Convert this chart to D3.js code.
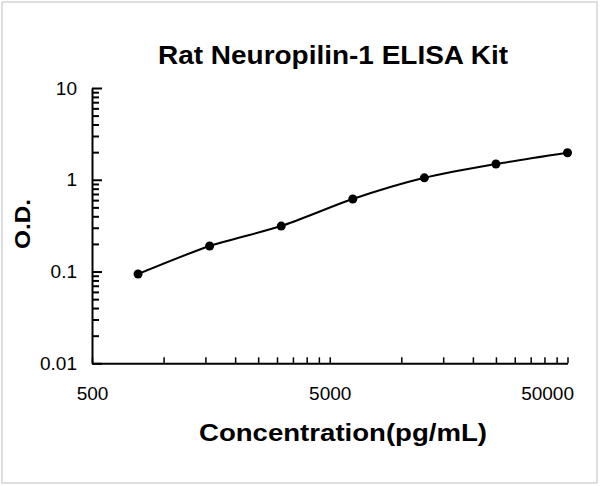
<!DOCTYPE html>
<html>
<head>
<meta charset="utf-8">
<script src="https://cdn.jsdelivr.net/npm/d3@7"></script>
<style>
  body { margin: 0; background: #fff; }
  svg { display: block; }
  text { font-family: "Liberation Sans", Arial, sans-serif; fill: #000; }
</style>
</head>
<body>
<svg id="chart"></svg>
<script>
// standard curve values
const concentrations = [781.25, 1562.5, 3125, 6250, 12500, 25000, 50000];
const odValues = [0.094, 0.19, 0.313, 0.617, 1.05, 1.485, 1.97];
const xTickLabels = [500, 5000, 50000];
const yTickLabels = [0.01, 0.1, 1, 10];

(function () {
  const width = 600, height = 486;
  const plot = { left: 92, right: 567.5, top: 88, bottom: 363.3 };

  const svg = d3.select("#chart").attr("width", width).attr("height", height);

  // light frame around the picture
  svg.append("rect")
    .attr("x", 2).attr("y", 2)
    .attr("width", 595).attr("height", 481)
    .attr("fill", "none").attr("stroke", "#d4d4d4").attr("stroke-width", 1.5);

  const x = d3.scaleLog().domain([500, 50000]).range([plot.left, plot.right]);
  const y = d3.scaleLog().domain([0.01, 10]).range([plot.bottom, plot.top]);

  // minor ticks: 500*k and 5000*k
  let xMinor = [];
  [500, 5000].forEach(function (b) {
    for (let k = 2; k <= 9; k++) xMinor.push(b * k);
  });
  let yMinor = [];
  [0.01, 0.1, 1].forEach(function (b) {
    for (let k = 2; k <= 9; k++) yMinor.push(b * k);
  });

  // x axis
  svg.append("g")
    .attr("transform", "translate(0," + plot.bottom + ")")
    .call(d3.axisBottom(x).tickValues(xMinor).tickSizeInner(-6).tickSizeOuter(0).tickFormat(""))
    .call(function (g) { g.select(".domain").remove(); })
    .selectAll("line").attr("stroke-width", 1.5);

  const xAxis = svg.append("g")
    .attr("transform", "translate(0," + plot.bottom + ")")
    .call(d3.axisBottom(x).tickValues(xTickLabels).tickSizeInner(-6).tickSizeOuter(0)
      .tickPadding(23).tickFormat(d3.format("d")));
  xAxis.select(".domain").attr("stroke-width", 2);
  xAxis.selectAll("line").attr("stroke-width", 1.5);
  xAxis.selectAll("text").style("font-size", "19px");
  // last label is pulled inside the chart area, as Excel does
  xAxis.selectAll("text")
    .filter(function (d) { return d === 50000; })
    .attr("text-anchor", "end")
    .attr("x", 6);

  // y axis
  svg.append("g")
    .attr("transform", "translate(" + plot.left + ",0)")
    .call(d3.axisLeft(y).tickValues(yMinor).tickSizeInner(-7).tickSizeOuter(0).tickFormat(""))
    .call(function (g) { g.select(".domain").remove(); })
    .selectAll("line").attr("stroke-width", 2);

  const yAxis = svg.append("g")
    .attr("transform", "translate(" + plot.left + ",0)")
    .call(d3.axisLeft(y).tickValues(yTickLabels).tickSizeInner(-10).tickSizeOuter(0)
      .tickPadding(15).tickFormat(function (d) { return String(d); }));
  yAxis.select(".domain").attr("stroke-width", 2);
  yAxis.selectAll("line").attr("stroke-width", 2);
  yAxis.selectAll("text").style("font-size", "19px");

  // smooth curve through points
  const line = d3.line()
    .x(function (d, i) { return x(concentrations[i]); })
    .y(function (d) { return y(d); })
    .curve(d3.curveCardinal.tension(0.3));

  svg.append("path")
    .datum(odValues)
    .attr("fill", "none")
    .attr("stroke", "#000")
    .attr("stroke-width", 2)
    .attr("d", line);

  svg.selectAll(".dot")
    .data(odValues)
    .enter().append("circle")
    .attr("class", "dot")
    .attr("cx", function (d, i) { return x(concentrations[i]); })
    .attr("cy", function (d) { return y(d); })
    .attr("r", 4.5)
    .attr("fill", "#000");

  // titles
  svg.append("text")
    .attr("x", 333).attr("y", 64)
    .attr("text-anchor", "middle")
    .style("font-size", "25px").style("font-weight", "bold")
    .attr("textLength", 350).attr("lengthAdjust", "spacingAndGlyphs")
    .text("Rat Neuropilin-1 ELISA Kit");

  svg.append("text")
    .attr("x", 343).attr("y", 441)
    .attr("text-anchor", "middle")
    .style("font-size", "23px").style("font-weight", "bold")
    .attr("textLength", 288).attr("lengthAdjust", "spacingAndGlyphs")
    .text("Concentration(pg/mL)");

  svg.append("text")
    .attr("transform", "translate(30,224) rotate(-90)")
    .attr("text-anchor", "middle")
    .style("font-size", "22px").style("font-weight", "bold")
    .attr("textLength", 50).attr("lengthAdjust", "spacingAndGlyphs")
    .text("O.D.");
}());
</script>
</body>
</html>
